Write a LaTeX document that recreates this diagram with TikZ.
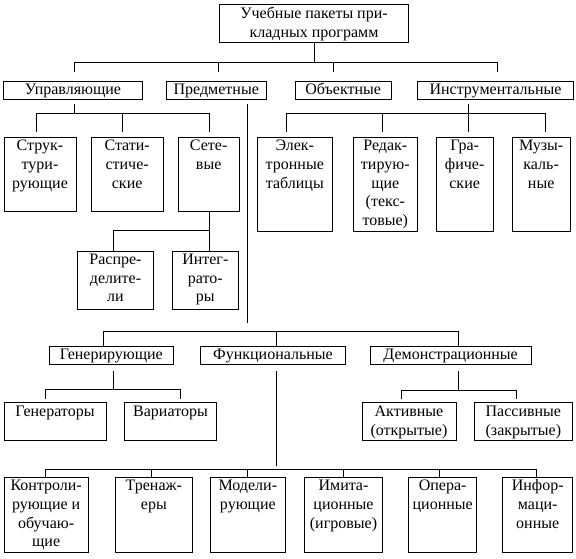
\documentclass[tikz,border=0pt]{standalone}
\usepackage{fontspec}
\setmainfont{Liberation Serif}
\tikzset{
  bx/.style={draw, line width=1pt, inner sep=0pt, outer sep=0pt, font=\fontsize{16}{18.7}\selectfont},
  ln/.style={line width=1pt},
}
\newcommand\boxnode[7]{%
  \node[bx] (#1) at ({(#2+#4)/2},{(#3+#5)/2})
  {\parbox[c][\dimexpr#5pt-#3pt\relax][#6]{\dimexpr#4pt-#2pt\relax}{\centering\rule{0pt}{13.5pt}#7\rule[-4.5pt]{0pt}{4.5pt}\par}};}
\begin{document}
\begin{tikzpicture}[x=1pt,y=-1pt]
\path[fill=white] (0,0) rectangle (576,558);
\useasboundingbox (0,0) rectangle (576,558);

% level 0
\boxnode{T}{219.5}{4}{408.5}{42.3}{c}{Учебные пакеты при-\\кладных программ}
% level 1
\boxnode{U}{3.5}{81}{142.5}{99.3}{c}{Управляющие}
\boxnode{P}{166}{81}{266.5}{99.3}{c}{Предметные}
\boxnode{O}{295.3}{81}{391}{99.3}{c}{Объектные}
\boxnode{I}{417.7}{81}{573.3}{99.3}{c}{Инструментальные}
% level 2
\boxnode{S1}{4}{137.3}{76}{211.7}{t}{Струк-\\тури-\\рующие}
\boxnode{S2}{91.3}{137.3}{163}{211.7}{t}{Стати-\\стиче-\\ские}
\boxnode{S3}{178.3}{137.3}{239}{211.7}{t}{Сете-\\вые}
\boxnode{E1}{257.3}{137.3}{332.3}{231}{t}{Элек-\\тронные\\таблицы}
\boxnode{E2}{353.3}{137.3}{417.3}{231}{t}{Редак-\\тирую-\\щие\\(текс-\\товые)}
\boxnode{E3}{436}{137.3}{493.3}{231}{t}{Гра-\\фиче-\\ские}
\boxnode{E4}{512.3}{137.3}{570}{231}{t}{Музы-\\каль-\\ные}
% level 3
\boxnode{R1}{77.7}{251}{153.3}{309.3}{t}{Распре-\\делите-\\ли}
\boxnode{R2}{172.3}{251}{238.3}{309.3}{t}{Интег-\\рато-\\ры}
% level 4
\boxnode{G}{49.3}{346}{173.3}{364.3}{c}{Генерирующие}
\boxnode{F}{200.7}{346}{345.3}{364.3}{c}{Функциональные}
\boxnode{D}{370.3}{346}{531}{364.3}{c}{Демонстрационные}
% level 5
\boxnode{G1}{4}{402.7}{106}{440}{t}{Генераторы}
\boxnode{G2}{124.3}{402.7}{216.7}{440}{t}{Вариаторы}
\boxnode{D1}{362}{402.7}{456}{440}{c}{Активные\\(открытые)}
\boxnode{D2}{474.7}{402.7}{572}{440}{c}{Пассивные\\(закрытые)}
% level 6
\boxnode{F1}{4}{477.3}{88.3}{552.7}{t}{Контроли-\\рующие и\\обучаю-\\щие}
\boxnode{F2}{115}{477.3}{192.7}{552.7}{t}{Тренаж-\\еры}
\boxnode{F3}{210.7}{477.3}{285}{552.7}{t}{Модели-\\рующие}
\boxnode{F4}{304.3}{477.3}{382.7}{552.7}{t}{Имита-\\ционные\\(игровые)}
\boxnode{F5}{408.7}{477.3}{476.7}{552.7}{t}{Опера-\\ционные}
\boxnode{F6}{502.7}{477.3}{572.7}{552.7}{t}{Инфор-\\маци-\\онные}

% buses
\coordinate (b1) at (0,62.7);
\coordinate (b2) at (0,113.3);
\coordinate (b3) at (0,230.7);
\coordinate (b4) at (0,331.7);
\coordinate (b5) at (0,389.3);
\coordinate (b6) at (0,390);
\coordinate (b7) at (0,469.3);

% T -> level 1
\draw[ln] (T.south -| 314.3,0) -- (314.3,0 |- b1);
\draw[ln, shorten <=9pt, shorten >=9pt] (U.north -| 74,0) -- (74,0 |- b1) -- (497,0 |- b1) -- (I.north -| 497,0);
\draw[ln, shorten >=9pt] (218.3,0 |- b1) -- (P.north -| 218.3,0);
\draw[ln, shorten >=9pt] (333.7,0 |- b1) -- (O.north -| 333.7,0);

% U -> S1..S3
\draw[ln, shorten <=4.7pt] (U.south -| 74,0) -- (74,0 |- b2);
\draw[ln, shorten <=5.3pt, shorten >=5.3pt] (S1.north -| 36,0) -- (36,0 |- b2) -- (209.3,0 |- b2) -- (S3.north -| 209.3,0);
\draw[ln, shorten >=5.3pt] (122.7,0 |- b2) -- (S2.north -| 122.7,0);

% I -> E1..E4
\draw[ln, shorten <=4.7pt] (I.south -| 468.7,0) -- (468.7,0 |- b2);
\draw[ln, shorten <=5.3pt, shorten >=5.3pt] (E1.north -| 286,0) -- (286,0 |- b2) -- (545.3,0 |- b2) -- (E4.north -| 545.3,0);
\draw[ln, shorten >=5.3pt] (382.7,0 |- b2) -- (E2.north -| 382.7,0);
\draw[ln, shorten >=5.3pt] (468.7,0 |- b2) -- (E3.north -| 468.7,0);

% S3 -> R1, R2
\draw[ln] (S3.south -| 209.3,0) -- (209.3,0 |- b3);
\draw[ln] (R1.north -| 113.3,0) -- (113.3,0 |- b3) -- (209.3,0 |- b3) -- (R2.north -| 209.3,0);

% P -> G, F, D
\draw[ln, shorten <=4.7pt, shorten >=8.4pt] (P.south -| 247.7,0) -- (247.7,0 |- b4);
\draw[ln] (G.north -| 103.3,0) -- (103.3,0 |- b4) -- (458.3,0 |- b4) -- (D.north -| 458.3,0);
\draw[ln] (276.7,0 |- b4) -- (F.north -| 276.7,0);

% G -> G1, G2
\draw[ln, shorten <=6.7pt] (G.south -| 113.3,0) -- (113.3,0 |- b5);
\draw[ln, shorten <=3.4pt, shorten >=3.4pt] (G1.north -| 45.3,0) -- (45.3,0 |- b5) -- (180.3,0 |- b5) -- (G2.north -| 180.3,0);

% D -> D1, D2
\draw[ln, shorten <=6.7pt] (D.south -| 458.3,0) -- (458.3,0 |- b6);
\draw[ln, shorten <=3.4pt, shorten >=3.4pt] (D1.north -| 401.3,0) -- (401.3,0 |- b6) -- (516,0 |- b6) -- (D2.north -| 516,0);

% F -> F1..F6
\draw[ln, shorten <=6.7pt, shorten >=3.3pt] (F.south -| 276.7,0) -- (276.7,0 |- b7);
\draw[ln] (F1.north -| 45.3,0) -- (45.3,0 |- b7) -- (536,0 |- b7) -- (F6.north -| 536,0);
\foreach \n/\x in {F2/151.7, F3/247.3, F4/343.3, F5/439.3}
  \draw[ln] (\x,0 |- b7) -- (\n.north -| \x,0);
\end{tikzpicture}
\end{document}
